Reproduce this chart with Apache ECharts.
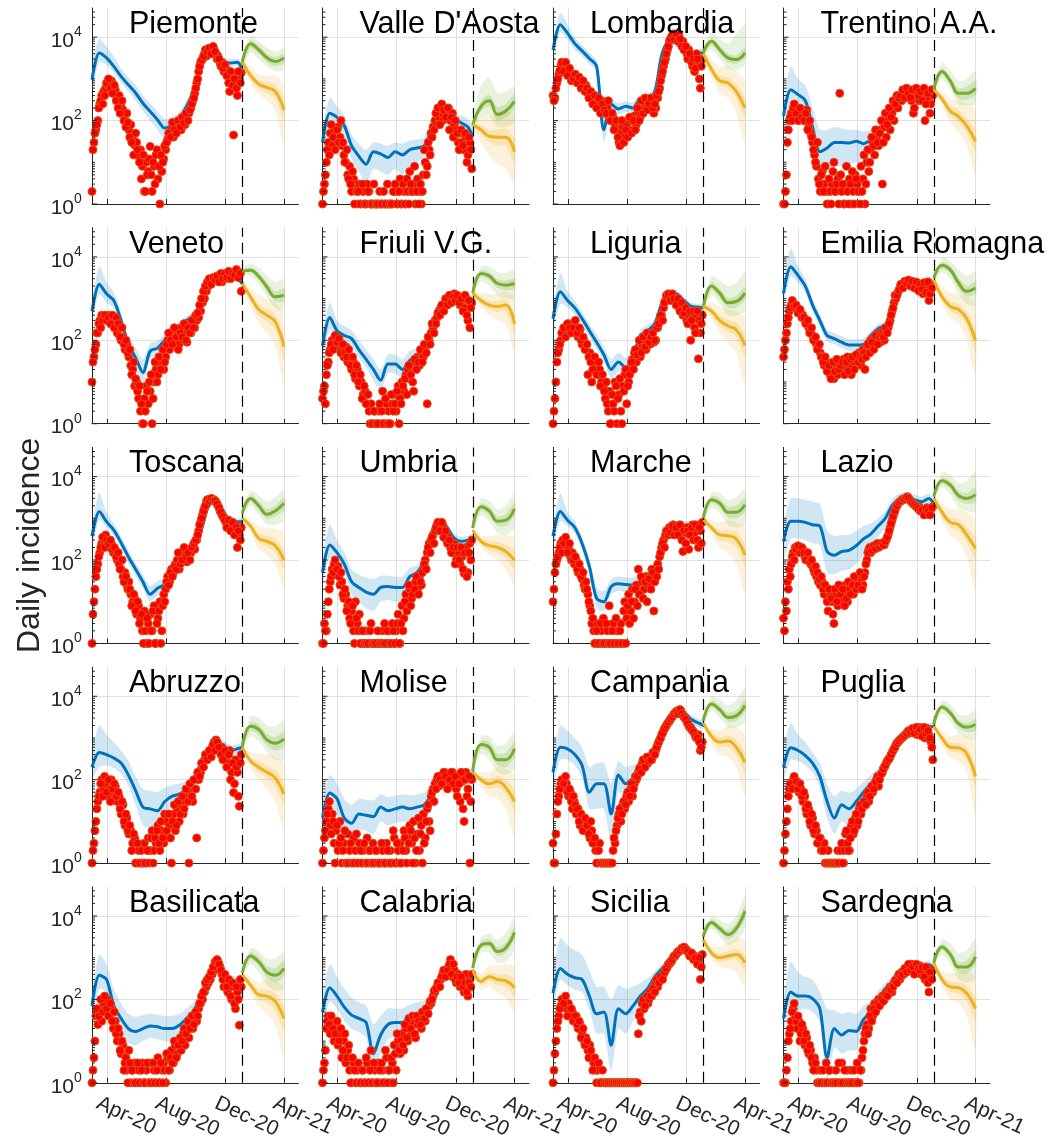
<!DOCTYPE html>
<html><head><meta charset="utf-8">
<script src="https://cdn.jsdelivr.net/npm/echarts@6/dist/echarts.min.js"></script>
<style>html,body{margin:0;padding:0;background:#fff}#c{width:1061px;height:1143px}</style>
</head><body><div id="c"></div><script>
const FONT = '"Liberation Sans", Arial, Helvetica, sans-serif';
const regionNames = ['Piemonte',"Valle D'Aosta",'Lombardia','Trentino A.A.','Veneto','Friuli V.G.','Liguria','Emilia Romagna','Toscana','Umbria','Marche','Lazio','Abruzzo','Molise','Campania','Puglia','Basilicata','Calabria','Sicilia','Sardegna'];
const tickDates = ['2020-04-01','2020-08-01','2020-12-01','2021-04-01'];
const tickLabels = ['Apr-20','Aug-20','Dec-20','Apr-21'];
const splitDate = '2021-01-05';
const yTickValues = [1,2,3,4,5,6,7,8,9,10,20,30,40,50,60,70,80,90,100,200,300,400,500,600,700,800,900,1000,2000,3000,4000,5000,6000,7000,8000,9000,10000,20000,30000,40000];
const yMajorTicks = [1,100,10000];
// sample days (days since 2020-03-01)
const dotDays = []; for (let d = 0; d <= 308; d += 4) dotDays.push(d);
const dotDays2 = []; for (let d = 2; d <= 306; d += 4) dotDays2.push(d);
const fitDays = [0,15,30,45,60,75,90,105,120,135,150,165,180,195,210,225,240,255,270,285,300,310];
const fcDays = [310,327,344,361,378,396];

// ---------- Piemonte ----------
const pieDots = [2,30,60,100,250,400,500,600,700,800, 900,720,550,350,400,220,180,105,150,60, 80,40,26,30,14,20,8,2,10,6, 24,2,8,15,4,1,6,12,20,35, 50,60,40,80,70,90,60,100,80,130, 150,200,300,450,800,1500,2500,3000,4000,3500, 5000,4500,5000,5000,4000,3500,2400,2500,1500,1800, 1150,500,1200,45,800,400,1000,1400];
const pieDots2 = [20,50,80,200,300,250,400,800,1000,600, 450,700,300,200,150,300,100,70,90,40, 30,15,50,20,10,4,15,2,5,12, 5,10,3,20,8,15,10,25,30,50, 40,90,60,50,100,70,120,90,150,100, 180,250,350,600,1000,2000,2800,3500,5000,4500, 5500,4000,6000,4500,3000,3000,2000,1800,2200,1200, 800,1500,700,1000,600,1500,800];
const pieFit = [950,4200,3200,2000,1150,720,460,260,165,105,66,80,115,220,550,2400,5000,4200,2600,2400,2500,1650];
const pieFitLo = [600,2500,2200,1400,800,500,300,170,100,60,35,50,80,160,420,1900,4000,3400,2100,1900,2000,1300];
const pieFitHi = [2500,9000,6000,3500,1800,1100,700,400,260,170,110,120,160,300,700,3000,6000,5000,3200,3000,3100,2100];
const pieGreen = [2400,7000,5000,3200,2600,3200];
const pieGreenIn = [[2200,2600],[5500,8500],[4000,6300],[2500,4000],[2000,3300],[2400,4000]];
const pieGreenOut = [[2000,2800],[4200,11000],[3000,8000],[2000,5500],[1500,4500],[1700,5500]];
const pieOrange = [2500,1200,750,620,500,180];
const pieOrangeIn = [[2300,2700],[1000,1500],[580,950],[450,850],[330,750],[100,320]];
const pieOrangeOut = [[2100,3000],[800,1900],[430,1300],[300,1200],[180,1200],[25,700]];

// ---------- Valle D'Aosta ----------
const vdaDots = [1,3,10,30,50,25,60,35,70,40, 25,15,10,5,8,2,4,3,1,3, 1,2,1,3,2,1,1,1,1,1, 1,1,1,1,1,1,1,2,2,1, 4,1,2,1,2,6,2,3,1,4, 2,1,5,10,8,20,50,70,100,80, 120,150,100,180,130,200,100,150,80,60, 30,50,30,20,40,15,30,7];
const vdaDots2 = [2,5,20,15,80,40,20,60,30,100, 30,10,20,4,3,6,1,2,2,1, 3,1,1,2,1,1,3,1,1,2, 1,2,1,3,1,1,2,3,1,2, 1,3,1,4,1,3,2,8,2,1, 3,2,20,5,30,15,40,60,150,200, 80,250,180,120,200,60,120,40,100,50, 20,60,25,50,10,40,20];
const vdaFit = [30,150,120,75,25,14,9,18,16,13,18,15,20,22,25,60,170,150,110,90,70,40];
const vdaFitLo = [15,80,70,40,12,6,3,7,6,5,7,5,8,10,14,35,120,110,80,60,45,25];
const vdaFitHi = [60,350,220,130,45,28,20,30,28,25,30,28,33,35,40,110,250,210,160,130,110,70];
const vdaGreen = [80,220,300,140,170,290];
const vdaGreenIn = [[70,90],[170,290],[220,420],[100,210],[120,250],[200,430]];
const vdaGreenOut = [[65,100],[120,700],[130,1100],[70,450],[70,500],[90,650]];
const vdaOrange = [80,60,42,40,40,18];
const vdaOrangeIn = [[75,88],[45,80],[30,60],[25,60],[25,65],[10,35]];
const vdaOrangeOut = [[70,95],[30,120],[15,130],[9,150],[7,170],[3,130]];

// ---------- Lombardia ----------
const lomDots = [400,350,800,1300,2000,2500,2000,1800,1500,1200, 1300,1000,1100,900,800,700,600,700,450,400, 350,300,350,250,200,300,150,250,200,120, 100,120,80,60,30,50,70,40,80,50, 100,60,130,80,150,120,200,300,250,200, 300,250,150,200,350,600,1200,2000,3000,5000, 8000,10000,12000,10000,9000,11000,7000,8000,5000,4000, 5000,3000,2000,1500,4000,2500,600,3000];
const lomDots2 = [300,600,1000,1600,2500,1500,2500,1200,1800,900, 1000,1300,800,1100,600,900,500,600,350,500, 250,400,200,350,150,250,180,150,300,100, 150,60,100,40,25,100,30,60,40,120, 50,100,60,200,100,300,150,350,180,250, 350,200,250,400,500,900,1500,2500,4000,6000, 9000,11000,9000,12000,8000,9000,6000,5000,6000,3000, 4000,2500,3000,1800,3000,1000,2000];
const lomFit = [5000,20000,12500,7000,4700,3100,2000,60,250,190,220,200,320,320,500,4000,8000,7000,4500,4200,4200,4200];
const lomFitLo = [3500,13000,9000,5000,3500,2300,1500,30,170,140,160,150,240,250,380,3000,6500,5800,3700,3400,3400,3300];
const lomFitHi = [7000,38000,20000,10000,6500,4300,2800,150,330,260,290,270,420,420,650,5200,10000,8500,5500,5200,5200,5200];
const lomGreen = [4200,8000,5000,3200,2900,4200];
const lomGreenIn = [[3900,4500],[6500,9500],[4000,6300],[2500,4000],[2300,3700],[3200,5500]];
const lomGreenOut = [[3700,4800],[5000,13000],[3000,9000],[1800,7000],[1600,12000],[2200,20000]];
const lomOrange = [4000,1700,900,800,500,200];
const lomOrangeIn = [[3700,4400],[1400,2200],[700,1200],[600,1100],[350,750],[120,330]];
const lomOrangeOut = [[3500,4700],[1100,3000],[450,2000],[350,2000],[150,1500],[30,900]];

// ---------- Trentino A.A. ----------
const taaDots = [1,2,30,100,150,200,120,150,100,180, 150,100,180,70,50,30,15,8,4,2, 6,3,2,1,2,3,10,2,4,450, 2,1,3,2,4,1,2,5,3,2, 8,4,1,10,6,20,30,15,40,25, 60,3,70,40,100,60,150,100,250,200, 350,300,450,500,400,500,300,150,400,500, 300,450,550,100,350,500,250,400];
const taaDots2 = [1,5,60,120,100,250,150,100,200,120, 100,150,60,100,40,20,10,30,3,5, 2,8,1,4,1,6,2,3,1,5, 3,1,8,1,3,6,1,4,2,1, 2,15,3,20,10,40,25,60,30,50, 100,30,150,80,200,120,300,250,400,350, 400,550,350,600,450,350,550,200,600,400, 500,300,600,250,450,150,550];
const taaFit = [130,550,420,300,70,18,22,30,30,29,32,28,35,50,90,200,450,600,550,550,550,550];
const taaFitLo = [70,260,200,160,35,7,6,8,8,9,10,9,14,25,55,140,350,480,450,450,450,440];
const taaFitHi = [250,2000,1000,700,200,60,60,70,65,60,60,55,60,80,140,280,600,750,680,680,680,680];
const taaGreen = [550,1500,900,450,450,600];
const taaGreenIn = [[520,580],[1250,1800],[700,1100],[330,600],[320,650],[400,900]];
const taaGreenOut = [[500,600],[1000,2400],[550,1600],[250,900],[230,1000],[250,1500]];
const taaOrange = [550,330,170,125,75,32];
const taaOrangeIn = [[520,580],[280,400],[130,230],[90,180],[50,110],[18,55]];
const taaOrangeOut = [[500,600],[230,500],[90,350],[50,300],[25,250],[5,180]];

// ---------- Veneto ----------
const venDots = [10,40,80,150,300,400,350,400,300,400, 350,250,300,150,200,100,120,60,80,40, 25,20,8,10,4,2,1,4,8,3, 6,1,10,20,15,25,30,20,40,100, 60,150,80,100,150,80,200,100,150,90, 200,150,250,200,300,350,500,800,1000,1500, 2000,2500,2500,2800,3000,2600,3200,2500,3500,3000, 3800,3200,4000,3500,4500,3500,4200,1500];
const venDots2 = [30,60,150,250,200,300,400,300,350,250, 400,200,350,250,120,200,80,100,50,60, 15,30,12,6,8,3,1,2,6,10, 15,4,30,10,40,20,60,30,80,150, 100,80,200,120,60,150,120,250,100,200, 150,300,200,400,450,700,1000,1500,2000,2500, 3000,2200,3200,2800,3500,2500,4000,3000,4000,3200, 4500,3000,4000,3600,5000,3200,4000];
const venFit = [500,2200,1300,900,300,80,38,17,55,65,100,150,220,300,400,800,1600,2600,2800,3200,3000,2300];
const venFitLo = [300,1300,800,600,200,50,22,9,35,45,75,110,170,240,320,650,1300,2200,2400,2700,2500,1900];
const venFitHi = [800,6000,2500,1400,450,130,65,35,85,95,140,200,290,380,500,1000,2000,3200,3400,3800,3600,2800];
const venGreen = [4500,4800,3400,1900,1100,1200];
const venGreenIn = [[4200,4800],[4200,5600],[2800,4200],[1500,2500],[850,1500],[850,1700]];
const venGreenOut = [[4000,5000],[3500,7000],[2200,5500],[1100,3500],[600,2500],[500,3000]];
const venOrange = [2300,1100,550,400,280,70];
const venOrangeIn = [[2100,2500],[900,1350],[400,750],[280,560],[180,420],[35,130]];
const venOrangeOut = [[2000,2700],[650,1800],[250,1200],[150,1000],[70,800],[8,400]];

// ---------- Friuli V.G. ----------
const fvgDots = [4,8,15,30,60,100,80,120,70,90, 60,40,70,30,40,20,30,12,20,8, 10,5,6,3,2,3,1,2,1,2, 1,6,1,3,2,1,3,5,2,8, 4,10,6,15,20,12,25,6,30,40, 25,50,40,70,3,100,150,200,300,350, 500,600,700,800,900,800,1000,900,1300,1000, 1100,700,900,600,1000,300,200,800];
const fvgDots2 = [6,3,25,50,80,60,130,90,110,50, 80,50,40,60,25,40,15,25,10,15, 4,8,3,5,1,1,2,1,1,3, 2,1,4,1,1,5,2,3,6,1, 3,8,12,5,25,15,10,35,20,30, 60,30,80,50,120,80,250,150,250,450, 400,700,500,1000,700,1200,800,1100,900,1200, 800,1000,500,1200,400,900,600];
const fvgFit = [75,350,170,130,110,60,35,20,11,27,27,20,33,42,60,120,450,800,900,900,800,700];
const fvgFitLo = [40,180,100,80,70,38,22,11,6,16,16,12,20,26,40,85,350,650,750,750,650,550];
const fvgFitHi = [150,800,300,220,170,100,60,35,20,45,45,35,55,65,90,170,600,1000,1100,1100,1000,900];
const fvgGreen = [1350,4000,3500,2300,2100,2300];
const fvgGreenIn = [[1250,1450],[3300,4800],[2800,4300],[1800,2900],[1600,2700],[1700,3000]];
const fvgGreenOut = [[1200,1500],[2600,5800],[2000,6000],[1200,4300],[1000,4200],[1000,5000]];
const fvgOrange = [1350,900,700,650,700,250];
const fvgOrangeIn = [[1300,1400],[750,1100],[550,900],[480,850],[500,950],[150,400]];
const fvgOrangeOut = [[1250,1450],[600,1400],[400,1300],[300,1300],[250,1500],[50,1000]];

// ---------- Liguria ----------
const ligDots = [1,4,30,60,100,150,200,150,250,180, 250,150,200,120,180,80,100,60,15,50, 10,30,25,15,20,10,8,4,3,6, 1,3,10,1,5,2,8,15,3,10, 20,35,50,30,60,40,80,100,60,120, 80,130,90,100,200,300,400,600,900,1000, 1200,1000,1100,900,800,600,700,400,500,300, 400,100,350,200,400,36,150,400];
const ligDots2 = [2,10,50,80,150,200,120,250,200,150, 200,300,150,200,100,120,60,80,40,30, 20,40,15,30,8,15,6,10,2,1, 5,2,8,4,12,1,6,20,8,15, 30,20,60,45,100,50,120,70,150,90, 120,150,100,200,250,400,300,800,1200,1300, 900,1300,1000,700,1000,500,800,450,600,250, 500,300,500,150,500,300,250];
const ligFit = [330,1450,900,600,330,170,90,45,20,30,22,40,130,170,250,800,1350,1300,900,650,620,590];
const ligFitLo = [180,750,600,400,230,120,60,30,12,18,13,25,90,120,190,650,1100,1050,750,520,500,480];
const ligFitHi = [550,4000,1500,900,480,250,140,70,35,50,38,60,180,230,330,1000,1650,1600,1100,800,750,720];
const ligGreen = [590,2000,1350,800,850,1350];
const ligGreenIn = [[560,620],[1600,2500],[1050,1750],[600,1050],[620,1150],[950,1900]];
const ligGreenOut = [[540,650],[1200,3500],[750,2700],[400,2000],[400,2400],[500,4500]];
const ligOrange = [650,500,300,220,180,75];
const ligOrangeIn = [[600,700],[400,620],[220,400],[160,310],[120,270],[40,140]];
const ligOrangeOut = [[580,730],[320,800],[150,650],[90,550],[50,500],[8,350]];

// ---------- Emilia Romagna ----------
const emrDots = [40,100,250,500,700,800,600,600,500,450, 400,300,250,200,180,130,100,80,70,50, 40,25,30,20,15,20,12,25,15,30, 20,35,20,40,25,15,35,30,40,50, 25,60,20,70,60,100,80,120,100,150, 90,150,100,180,200,300,500,800,1000,1400, 1800,2000,2200,2500,2600,2200,2400,2000,2300,1800, 1500,2000,1300,1700,2200,900,1500,2000];
const emrDots2 = [60,150,350,600,900,650,700,450,550,350, 350,250,300,150,200,100,120,60,80,40, 30,40,18,25,12,30,18,35,20,25, 30,15,30,18,35,40,20,45,30,40, 35,50,40,80,50,90,60,130,80,120, 130,120,200,150,250,400,600,1200,1200,1600, 2200,1800,2600,2300,2800,2000,2600,1800,2500,1600, 2200,1700,2400,1400,2500,1300,1800];
const emrFit = [1350,5800,3600,2000,700,300,130,110,90,77,77,80,130,190,230,500,1700,2600,2400,2500,2900,2100];
const emrFitLo = [800,3400,2400,1400,500,220,95,80,65,55,55,58,100,150,180,400,1400,2200,2000,2100,2400,1750];
const emrFitHi = [2500,16000,6000,3000,1000,420,180,150,125,105,105,110,170,240,300,650,2100,3100,2900,3000,3500,2600];
const emrGreen = [3100,6300,4900,2400,1500,1800];
const emrGreenIn = [[2900,3300],[5200,7500],[3900,6200],[1800,3200],[1100,2000],[1300,2500]];
const emrGreenOut = [[2800,3500],[4200,9500],[2900,8000],[1300,5000],[750,3500],[700,4500]];
const emrOrange = [2800,1100,650,550,330,100];
const emrOrangeIn = [[2600,3000],[900,1350],[500,850],[400,750],[220,480],[55,180]];
const emrOrangeOut = [[2500,3200],[700,1900],[350,1400],[250,1300],[100,1100],[15,700]];

// ---------- Toscana ----------
const tosDots = [1,10,40,80,150,250,300,400,300,200, 250,150,180,100,80,60,40,50,25,30, 15,10,12,5,8,4,2,6,1,3, 5,2,8,1,4,10,2,15,20,40, 30,60,50,80,100,60,120,100,150,90, 120,150,200,180,300,500,800,1200,1800,2500, 2800,2800,2900,2800,2500,2000,1500,1200,1000,800, 700,800,600,500,700,200,400,600];
const tosDots2 = [5,20,60,120,200,350,200,300,250,300, 180,200,120,150,60,100,30,40,20,20, 8,15,6,10,3,5,1,2,4,1, 2,6,1,3,6,1,8,10,30,25, 50,40,70,60,150,80,100,200,120,150, 100,200,250,300,400,700,1000,1500,2000,2800, 2600,3000,2700,2600,2200,1800,1400,1100,900,600, 900,500,800,400,600,500,300];
const tosFit = [370,1450,830,520,260,120,60,30,15,21,26,50,85,130,180,500,1900,2700,1500,900,830,830];
const tosFitLo = [220,900,600,380,190,85,42,21,10,14,18,36,65,100,140,400,1600,2300,1250,750,680,680];
const tosFitHi = [600,4000,1400,750,350,170,85,45,24,32,38,70,110,170,230,650,2300,3200,1800,1100,1000,1000];
const tosGreen = [1300,3000,2000,1250,1500,2300];
const tosGreenIn = [[1200,1400],[2500,3600],[1600,2600],[950,1650],[1100,2000],[1600,3100]];
const tosGreenOut = [[1150,1450],[2000,4500],[1200,3500],[700,2500],[700,3200],[900,5000]];
const tosOrange = [1000,650,330,280,220,100];
const tosOrangeIn = [[950,1050],[550,780],[260,430],[210,380],[150,320],[60,170]];
const tosOrangeOut = [[900,1100],[450,950],[180,650],[130,600],[80,550],[20,450]];

// ---------- Umbria ----------
const umbDots = [1,3,2,10,30,60,80,50,70,25, 30,12,15,8,4,6,2,10,3,5, 1,1,2,1,1,3,1,1,1,1, 1,2,3,1,2,1,3,1,2,5, 1,8,4,15,10,20,12,25,30,20, 40,25,60,100,150,250,300,400,500,700, 600,500,700,400,300,350,200,150,250,100, 150,80,120,48,200,50,250,300];
const umbDots2 = [1,2,5,20,40,50,100,60,40,50, 15,20,6,10,3,8,1,4,2,1, 2,1,1,1,2,1,1,1,2,1, 1,1,1,2,1,1,2,1,3,1, 3,2,10,6,25,8,15,20,40,15, 30,50,80,60,200,150,350,250,600,800, 500,800,350,500,250,300,150,200,80,200, 100,200,60,150,40,150,100];
const umbFit = [50,230,150,80,30,22,17,15,22,23,22,22,40,50,100,350,750,650,350,280,300,330];
const umbFitLo = [28,110,80,45,15,10,7,6,10,11,10,11,25,32,70,260,600,520,270,210,230,250];
const umbFitHi = [100,700,300,150,60,45,38,35,42,42,40,40,65,75,140,450,950,820,450,360,380,420];
const umbGreen = [580,1900,1500,850,900,1700];
const umbGreenIn = [[550,610],[1550,2300],[1150,1900],[650,1100],[650,1250],[1200,2400]];
const umbGreenOut = [[530,640],[1200,3000],[850,2600],[450,1600],[400,2000],[600,4000]];
const umbOrange = [520,280,220,200,160,100];
const umbOrangeIn = [[500,540],[240,330],[170,280],[150,270],[110,230],[60,170]];
const umbOrangeOut = [[480,560],[200,400],[130,380],[100,400],[60,400],[25,350]];

// ---------- Marche ----------
const marDots = [10,50,100,150,250,300,250,180,200,120, 150,80,100,50,60,35,25,30,15,8, 3,2,1,3,1,2,4,1,2,8, 1,3,1,2,1,3,1,10,4,15, 6,20,10,25,60,15,30,20,40,25, 40,60,6,50,80,120,200,300,400,500, 600,500,700,450,550,500,600,160,450,600, 180,500,700,450,600,200,500,800];
const marDots2 = [20,80,120,200,150,250,350,150,250,100, 100,120,60,80,40,50,20,20,10,6, 4,1,2,1,3,1,1,3,1,1, 2,1,4,1,2,1,6,1,8,3, 10,4,20,8,15,40,12,30,10,35, 20,50,30,40,60,150,250,200,500,400, 450,650,400,600,400,700,300,500,250,500, 400,600,300,700,300,600,250];
const marFit = [370,1450,900,600,250,70,12,10,23,27,26,25,30,40,55,150,600,650,650,650,700,800];
const marFitLo = [220,850,650,430,180,45,7,6,15,18,17,17,20,28,40,110,480,520,520,520,560,650];
const marFitHi = [600,4000,1400,850,350,110,22,18,35,40,38,38,45,60,80,220,800,850,850,850,900,1000];
const marGreen = [1000,2800,2300,1400,1400,2100];
const marGreenIn = [[950,1050],[2300,3400],[1800,3000],[1050,1900],[1000,2000],[1400,3000]];
const marGreenOut = [[900,1100],[1800,4200],[1300,4000],[700,2800],[600,3200],[700,5000]];
const marOrange = [900,600,400,380,320,130];
const marOrangeIn = [[870,940],[500,720],[300,520],[270,520],[210,480],[70,230]];
const marOrangeOut = [[850,960],[400,900],[200,800],[150,900],[80,800],[15,600]];

// ---------- Lazio ----------
const lazDots = [4,10,30,60,80,150,200,180,200,150, 180,120,130,100,80,70,50,40,30,25, 30,15,20,6,15,10,3,15,8,20, 10,15,25,10,20,30,15,30,20,40, 30,25,50,100,180,150,200,180,220,200, 220,250,230,300,400,600,900,1300,1800,2200, 2500,2700,2800,3000,3300,2800,2500,2200,2000,1800, 1900,1700,1500,1400,1800,1300,1600,1900];
const lazDots2 = [2,6,20,40,120,100,180,220,150,200, 150,100,150,90,100,60,70,50,35,40, 20,25,10,20,12,5,20,10,25,15, 20,8,12,30,15,25,40,20,25,50, 20,40,80,150,200,170,220,190,250,210, 250,230,280,350,500,750,1100,1500,2000,2400, 2600,2900,2900,3200,3000,2600,2300,2100,1900,1700, 1500,1600,1200,1700,1500,1200,1800];
const lazFit = [280,850,850,800,700,650,160,130,160,170,220,320,420,650,1000,2100,2900,3300,2800,2500,3000,2200];
const lazFitLo = [100,320,330,300,250,230,50,45,55,60,80,130,200,350,600,1400,2100,2500,2100,1900,2300,1700];
const lazFitHi = [700,3000,3000,2800,2500,2200,500,380,400,400,500,650,750,1000,1500,3000,4000,4300,3700,3300,3900,2900];
const lazGreen = [3300,8000,6300,3500,3000,3700];
const lazGreenIn = [[3100,3500],[6800,9500],[5000,7800],[2700,4500],[2200,4000],[2500,5500]];
const lazGreenOut = [[3000,3700],[5500,13000],[3800,11000],[1800,7000],[1500,8000],[1400,13000]];
const lazOrange = [3000,1400,800,700,400,190];
const lazOrangeIn = [[2800,3200],[1100,1750],[600,1050],[500,950],[270,600],[100,330]];
const lazOrangeOut = [[2700,3300],[850,2400],[400,1700],[280,1700],[120,1400],[20,900]];

// ---------- Abruzzo ----------
const abrDots = [1,3,10,30,50,100,60,80,40,60, 100,50,70,30,40,15,25,8,12,5, 6,3,4,1,2,1,1,3,1,4, 2,6,2,3,8,2,6,3,10,4, 8,1,15,6,20,10,25,15,30,40, 1,50,30,60,4,100,150,200,300,350, 400,500,600,800,900,700,500,600,400,300, 250,500,150,49,300,150,23,400];
const abrDots2 = [2,6,20,40,80,40,120,50,100,30, 60,80,40,50,20,30,10,15,6,8, 2,5,1,3,1,2,1,1,2,1, 4,1,4,6,3,10,4,15,6,15, 4,10,25,8,30,15,40,20,60,30, 80,40,100,60,150,120,250,200,400,300, 500,350,700,500,800,600,400,300,500,200, 400,100,250,80,200,40,250];
const abrFit = [200,450,400,330,250,130,55,22,20,18,30,40,45,60,110,250,500,800,700,500,550,600];
const abrFitLo = [110,200,220,190,140,70,25,8,7,7,14,22,28,40,75,180,380,650,550,380,420,450];
const abrFitHi = [450,2000,1200,800,500,280,120,60,55,50,65,75,80,95,160,350,650,1000,900,680,720,800];
const abrGreen = [600,1900,1600,900,750,950];
const abrGreenIn = [[570,630],[1500,2400],[1200,2100],[650,1250],[500,1050],[600,1400]];
const abrGreenOut = [[550,660],[1100,3300],[850,3000],[450,2000],[300,1900],[300,2700]];
const abrOrange = [600,280,200,150,110,45];
const abrOrangeIn = [[570,630],[230,340],[150,270],[110,220],[70,170],[25,80]];
const abrOrangeOut = [[550,660],[180,430],[100,420],[60,400],[30,350],[6,250]];

// ---------- Molise ----------
const molDots = [1,4,10,20,8,15,3,6,2,10, 1,3,1,5,2,1,4,2,1,3, 1,2,1,4,2,1,3,1,2,1, 1,2,1,3,1,2,1,4,1,2, 3,1,6,2,4,8,3,10,1,5, 2,8,15,4,20,10,40,60,80,100, 70,120,90,150,100,130,80,150,100,60, 120,30,90,10,150,60,1,100];
const molDots2 = [2,6,15,30,5,10,1,8,3,4, 2,6,1,1,3,1,1,5,1,2, 1,3,1,1,2,1,1,2,1,1, 3,1,1,2,1,1,6,1,3,1, 1,2,4,1,3,6,1,4,2,12, 5,1,3,10,25,6,50,30,60,120, 100,80,150,120,60,100,150,80,120,40, 80,150,20,100,40,120,30];
const molFit = [12,48,35,12,9,15,14,13,22,18,20,22,20,22,25,45,95,110,110,110,130,140];
const molFitLo = [5,22,15,5,3,6,6,5,10,8,9,10,9,10,12,28,70,85,85,85,100,110];
const molFitHi = [30,130,80,35,25,35,33,32,45,38,42,45,42,45,50,75,130,145,145,145,170,180];
const molGreen = [160,700,600,300,300,550];
const molGreenIn = [[150,170],[550,850],[450,800],[220,420],[200,450],[350,800]];
const molGreenOut = [[145,175],[420,1100],[300,1100],[150,650],[130,750],[180,1400]];
const molOrange = [150,100,80,90,65,30];
const molOrangeIn = [[145,155],[85,120],[60,105],[65,125],[45,100],[18,55]];
const molOrangeOut = [[140,160],[65,150],[40,150],[35,200],[20,180],[4,120]];

// ---------- Campania ----------
const camDots = [3,1,15,40,80,100,60,80,40,50, 20,30,15,20,8,12,10,6,10,4, 6,3,2,1,3,1,1,1,1,1, 1,2,3,8,15,10,25,20,40,30, 60,40,80,100,150,200,250,200,300,250, 350,300,400,500,700,900,1200,1500,1800,2200, 2500,3000,3500,4000,4500,4000,4500,3500,3000,2500, 2000,1800,1500,1300,1000,1200,500,800];
const camDots2 = [1,5,30,60,100,80,120,50,60,30, 40,25,20,10,15,6,12,8,5,10, 3,4,1,2,1,1,1,1,1,1, 1,4,6,12,20,15,30,25,50,40, 80,60,120,120,180,150,300,200,350,280, 300,450,400,600,800,1000,1300,1700,2000,2400, 2800,3200,3800,4200,3800,4800,3800,3200,2800,2200, 1800,1600,1400,1100,1000,800,600];
const camFit = [150,600,550,400,220,50,80,80,15,130,80,110,150,250,450,1100,2200,4000,4000,2800,2300,2000];
const camFitLo = [70,300,300,220,110,20,20,20,3,50,35,55,90,170,320,850,1800,3300,3300,2300,1800,1600];
const camFitHi = [350,2000,1500,1000,600,200,250,250,80,280,200,230,270,380,650,1500,2800,4900,4900,3500,2900,2600];
const camGreen = [2600,6500,4800,3100,3400,6000];
const camGreenIn = [[2400,2800],[5500,7800],[3900,6000],[2500,4000],[2600,4600],[4300,8500]];
const camGreenOut = [[2300,2900],[4500,10000],[3000,8500],[1800,6000],[1800,8000],[2500,16000]];
const camOrange = [2300,1100,800,850,600,260];
const camOrangeIn = [[2200,2400],[900,1350],[620,1050],[620,1150],[400,900],[150,450]];
const camOrangeOut = [[2100,2500],[700,1700],[400,1500],[350,2000],[200,1800],[40,1200]];

// ---------- Puglia ----------
const pugDots = [1,5,20,60,80,100,70,90,50,60, 30,40,15,20,8,12,5,6,3,4, 2,3,1,2,1,1,1,1,2,1, 3,1,5,3,2,8,5,12,8,20, 15,25,30,40,30,60,50,80,100,70, 130,150,200,250,300,350,450,550,700,800, 900,1000,1100,1200,1400,1300,1500,1400,1600,1200, 1800,1300,1500,1000,1700,1200,800,300];
const pugDots2 = [2,10,40,80,60,120,90,60,80,40, 50,20,25,10,15,6,8,3,4,2, 2,1,1,1,1,1,1,1,1,2, 1,2,6,2,4,10,6,15,10,25, 20,30,25,50,40,70,60,90,120,100, 140,180,220,280,320,400,500,600,750,850, 950,1050,1150,1300,1500,1400,1700,1300,1800,1400, 1600,1100,1800,1300,1500,1000,600];
const pugFit = [200,580,500,380,250,120,30,12,25,20,30,50,80,140,250,450,800,1300,1700,1800,1850,1900];
const pugFitLo = [100,300,280,220,150,65,12,5,10,8,14,28,50,100,190,350,650,1050,1400,1500,1500,1550];
const pugFitHi = [450,2300,1200,800,450,250,80,40,55,48,60,90,130,200,330,600,1000,1600,2100,2200,2300,2300];
const pugGreen = [2100,5500,4000,2200,1800,2100];
const pugGreenIn = [[2000,2200],[4700,6500],[3300,5000],[1800,2700],[1400,2300],[1500,2800]];
const pugGreenOut = [[1950,2250],[3800,8000],[2500,6500],[1300,3800],[1000,3500],[900,4500]];
const pugOrange = [1900,1000,600,580,420,120];
const pugOrangeIn = [[1800,2000],[850,1200],[480,760],[450,750],[300,600],[70,200]];
const pugOrangeOut = [[1750,2050],[650,1500],[330,1100],[280,1200],[150,1100],[15,700]];

// ---------- Basilicata ----------
const basDots = [1,4,40,25,60,30,80,50,100,40, 60,20,30,10,15,5,8,3,2,6, 1,2,3,1,2,1,3,1,2,1, 3,1,2,1,4,1,2,3,1,4, 2,6,3,8,5,10,6,15,8,20, 12,30,20,40,30,60,80,100,150,200, 250,300,400,500,700,800,600,400,200,300, 150,250,100,200,60,150,24,200];
const basDots2 = [2,10,60,40,100,50,120,60,40,80, 30,50,15,20,6,10,2,4,1,3, 2,1,1,3,1,2,1,1,3,1, 1,3,1,2,1,3,1,2,5,2, 4,3,10,4,8,12,10,20,15,30, 20,40,25,50,40,80,120,150,250,300, 350,450,600,800,900,700,500,300,400,200, 300,120,250,80,200,100,300];
const basFit = [70,380,300,70,35,20,17,20,23,22,20,20,24,35,55,120,260,650,500,300,250,280];
const basFitLo = [35,180,150,35,17,9,8,10,12,11,10,10,12,20,35,80,190,500,380,220,180,210];
const basFitHi = [150,1200,700,180,80,45,38,42,45,43,40,40,45,60,85,170,350,850,650,400,350,380];
const basGreen = [430,1100,800,450,380,560];
const basGreenIn = [[410,450],[900,1350],[620,1050],[330,620],[260,550],[360,850]];
const basGreenOut = [[400,460],[700,1700],[450,1400],[220,950],[160,950],[180,1400]];
const basOrange = [390,220,130,120,90,35];
const basOrangeIn = [[370,410],[180,270],[100,175],[85,170],[55,140],[18,65]];
const basOrangeOut = [[360,420],[140,350],[70,250],[45,300],[25,280],[4,180]];

// ---------- Calabria ----------
const calDots = [1,3,20,40,15,30,10,25,8,15, 4,10,3,6,2,1,3,1,2,1, 1,2,1,3,1,6,1,2,1,3, 1,2,1,4,2,1,3,8,2,10, 5,15,6,20,10,25,15,30,12,25, 35,20,40,30,50,70,80,120,150,200, 250,300,400,500,400,600,900,350,500,250, 400,200,300,150,400,120,300,400];
const calDots2 = [2,6,30,25,40,20,15,30,10,20, 6,15,4,8,1,4,2,1,3,1, 2,1,4,1,2,1,3,1,1,2, 3,1,6,1,2,4,1,5,15,6, 10,8,25,12,35,20,40,15,40,30, 25,50,35,60,45,90,100,160,180,250, 200,350,500,350,500,700,400,700,300,350, 250,350,200,250,150,250,200];
const calFit = [50,190,120,65,42,35,28,5,14,25,28,28,38,45,55,90,220,430,400,280,280,310];
const calFitLo = [20,90,60,30,20,16,12,1.5,5,11,13,13,18,24,32,60,160,330,300,200,200,230];
const calFitHi = [130,700,350,180,110,85,70,25,40,60,60,60,75,85,95,140,300,560,520,380,380,420];
const calGreen = [560,2000,2200,1400,1700,4000];
const calGreenIn = [[530,590],[1650,2400],[1800,2800],[1100,1800],[1300,2300],[2800,5500]];
const calGreenOut = [[510,610],[1300,3000],[1300,3800],[750,2700],[800,4000],[1600,9000]];
const calOrange = [500,270,350,300,280,190];
const calOrangeIn = [[480,520],[220,330],[280,440],[220,400],[200,400],[120,300]];
const calOrangeOut = [[460,540],[170,420],[200,650],[140,650],[110,700],[50,600]];

// ---------- Sicilia ----------
const sicDots = [1,5,20,40,70,100,80,60,80,40, 50,30,40,20,25,15,10,12,6,8, 4,3,2,2,1,1,1,1,1,1, 1,1,1,1,1,1,1,1,1,1, 1,1,1,1,15,50,80,60,100,80, 150,120,200,250,200,300,350,400,500,600, 700,800,1000,1100,1300,1400,1500,1600,1700,1500, 1300,1200,1000,1100,900,800,300,1200];
const sicDots2 = [2,10,30,60,100,80,120,40,60,60, 30,40,25,30,12,20,8,10,4,6, 2,4,1,3,1,2,1,1,1,1, 1,1,1,1,1,1,1,1,1,1, 1,1,1,1,40,30,100,70,120,100, 120,180,150,300,250,350,300,450,550,700, 800,900,1100,1200,1400,1500,1700,1800,1600,1400, 1100,1300,900,1000,700,1000,600];
const sicFit = [140,550,400,330,300,120,45,50,8,60,45,70,120,180,350,550,850,1300,1700,1500,1100,1300];
const sicFitLo = [60,300,220,170,150,55,15,15,2,20,15,30,70,120,260,430,700,1100,1450,1250,900,1050];
const sicFitHi = [350,3000,2000,1500,1200,500,200,200,100,220,180,200,250,320,480,700,1050,1600,2000,1800,1350,1600];
const sicGreen = [3200,7000,5000,3600,5000,13000];
const sicGreenIn = [[3000,3400],[6000,8200],[4000,6200],[2800,4600],[3700,6800],[9000,18000]];
const sicGreenOut = [[2900,3500],[5000,10000],[3200,8000],[2000,6500],[2500,10000],[5000,30000]];
const sicOrange = [2700,1300,1000,1100,1200,750];
const sicOrangeIn = [[2600,2800],[1100,1550],[800,1250],[850,1450],[900,1650],[500,1100]];
const sicOrangeOut = [[2500,2900],[900,1900],[600,1800],[550,2200],[450,3000],[200,2500]];

// ---------- Sardegna ----------
const sarDots = [1,1,4,15,30,60,40,20,30,15, 20,8,12,5,6,3,4,2,1,2, 1,1,3,1,2,1,1,2,1,1, 3,1,1,2,1,2,1,1,3,1, 2,6,15,25,20,60,40,80,60,100, 80,120,100,150,130,200,150,250,300,350, 300,450,400,500,600,550,700,500,600,450, 650,400,550,300,500,150,350,500];
const sarDots2 = [1,2,10,20,50,80,30,40,10,25, 10,15,6,8,4,2,3,1,1,1, 2,1,1,2,1,1,1,1,3,1, 1,2,1,1,1,1,2,1,1,2, 4,10,20,15,40,30,60,50,80,70, 100,90,130,120,180,170,200,280,250,400, 350,400,550,450,700,500,600,400,700,550, 500,600,350,600,250,450,300];
const sarFit = [35,150,120,120,105,60,4,20,14,18,17,33,50,100,180,270,400,600,680,630,680,550];
const sarFitLo = [15,60,55,60,50,28,1.2,7,5,6,6,15,28,65,130,200,300,480,550,500,550,430];
const sarFitHi = [100,800,450,350,300,150,60,55,45,50,45,70,90,160,250,360,520,750,850,800,850,700];
const sarGreen = [750,1800,1200,600,600,1050];
const sarGreenIn = [[710,790],[1500,2200],[950,1500],[450,800],[420,850],[700,1500]];
const sarGreenOut = [[690,820],[1200,2800],[700,2200],[300,1300],[250,1500],[300,2800]];
const sarOrange = [740,300,200,190,140,60];
const sarOrangeIn = [[700,780],[250,370],[150,270],[140,260],[90,210],[30,110]];
const sarOrangeOut = [[680,800],[190,480],[100,420],[80,450],[40,450],[6,350]];

function mk(name, dots, dots2, fit, fitLo, fitHi, green, greenIn, greenOut, orange, orangeIn, orangeOut) {
  return {name, dots, dots2, fit, fitLo, fitHi, green, greenIn, greenOut, orange, orangeIn, orangeOut};
}
const regions = [
  mk(regionNames[0], pieDots, pieDots2, pieFit, pieFitLo, pieFitHi, pieGreen, pieGreenIn, pieGreenOut, pieOrange, pieOrangeIn, pieOrangeOut),
  mk(regionNames[1], vdaDots, vdaDots2, vdaFit, vdaFitLo, vdaFitHi, vdaGreen, vdaGreenIn, vdaGreenOut, vdaOrange, vdaOrangeIn, vdaOrangeOut),
  mk(regionNames[2], lomDots, lomDots2, lomFit, lomFitLo, lomFitHi, lomGreen, lomGreenIn, lomGreenOut, lomOrange, lomOrangeIn, lomOrangeOut),
  mk(regionNames[3], taaDots, taaDots2, taaFit, taaFitLo, taaFitHi, taaGreen, taaGreenIn, taaGreenOut, taaOrange, taaOrangeIn, taaOrangeOut),
  mk(regionNames[4], venDots, venDots2, venFit, venFitLo, venFitHi, venGreen, venGreenIn, venGreenOut, venOrange, venOrangeIn, venOrangeOut),
  mk(regionNames[5], fvgDots, fvgDots2, fvgFit, fvgFitLo, fvgFitHi, fvgGreen, fvgGreenIn, fvgGreenOut, fvgOrange, fvgOrangeIn, fvgOrangeOut),
  mk(regionNames[6], ligDots, ligDots2, ligFit, ligFitLo, ligFitHi, ligGreen, ligGreenIn, ligGreenOut, ligOrange, ligOrangeIn, ligOrangeOut),
  mk(regionNames[7], emrDots, emrDots2, emrFit, emrFitLo, emrFitHi, emrGreen, emrGreenIn, emrGreenOut, emrOrange, emrOrangeIn, emrOrangeOut),
  mk(regionNames[8], tosDots, tosDots2, tosFit, tosFitLo, tosFitHi, tosGreen, tosGreenIn, tosGreenOut, tosOrange, tosOrangeIn, tosOrangeOut),
  mk(regionNames[9], umbDots, umbDots2, umbFit, umbFitLo, umbFitHi, umbGreen, umbGreenIn, umbGreenOut, umbOrange, umbOrangeIn, umbOrangeOut),
  mk(regionNames[10], marDots, marDots2, marFit, marFitLo, marFitHi, marGreen, marGreenIn, marGreenOut, marOrange, marOrangeIn, marOrangeOut),
  mk(regionNames[11], lazDots, lazDots2, lazFit, lazFitLo, lazFitHi, lazGreen, lazGreenIn, lazGreenOut, lazOrange, lazOrangeIn, lazOrangeOut),
  mk(regionNames[12], abrDots, abrDots2, abrFit, abrFitLo, abrFitHi, abrGreen, abrGreenIn, abrGreenOut, abrOrange, abrOrangeIn, abrOrangeOut),
  mk(regionNames[13], molDots, molDots2, molFit, molFitLo, molFitHi, molGreen, molGreenIn, molGreenOut, molOrange, molOrangeIn, molOrangeOut),
  mk(regionNames[14], camDots, camDots2, camFit, camFitLo, camFitHi, camGreen, camGreenIn, camGreenOut, camOrange, camOrangeIn, camOrangeOut),
  mk(regionNames[15], pugDots, pugDots2, pugFit, pugFitLo, pugFitHi, pugGreen, pugGreenIn, pugGreenOut, pugOrange, pugOrangeIn, pugOrangeOut),
  mk(regionNames[16], basDots, basDots2, basFit, basFitLo, basFitHi, basGreen, basGreenIn, basGreenOut, basOrange, basOrangeIn, basOrangeOut),
  mk(regionNames[17], calDots, calDots2, calFit, calFitLo, calFitHi, calGreen, calGreenIn, calGreenOut, calOrange, calOrangeIn, calOrangeOut),
  mk(regionNames[18], sicDots, sicDots2, sicFit, sicFitLo, sicFitHi, sicGreen, sicGreenIn, sicGreenOut, sicOrange, sicOrangeIn, sicOrangeOut),
  mk(regionNames[19], sarDots, sarDots2, sarFit, sarFitLo, sarFitHi, sarGreen, sarGreenIn, sarGreenOut, sarOrange, sarOrangeIn, sarOrangeOut)
];

// ---------- chart construction ----------
const dayLabels = [];
for (let i = 0; i <= 426; i++) { dayLabels.push(new Date(Date.UTC(2020, 2, 1 + i)).toISOString().slice(0, 10)); }
const tickIdx = tickDates.map(t => dayLabels.indexOf(t));
const L = v => Math.log10(v);
const isTick = (idx) => tickIdx.indexOf(idx) >= 0;

const C_BLUE = '#0072BD', C_GREEN = '#77AC30', C_ORANGE = '#EDB120', C_AX = '#262626';

function bandSeries(gi, days, lo, hi, fill, z) {
  return {
    type: 'custom', xAxisIndex: gi, yAxisIndex: gi, silent: true, z: z, clip: true,
    data: [[days[0], L(lo[0])]],
    renderItem: function (p, api) {
      const up = days.map((d, k) => api.coord([d, L(hi[k])]));
      const dn = days.map((d, k) => api.coord([d, L(lo[k])])).reverse();
      return { type: 'polygon', shape: { points: up.concat(dn), smooth: 0.25 }, style: { fill: fill } };
    }
  };
}

const grids = [], xAxes = [], yAxes = [], series = [], titles = [];
regions.forEach((r, i) => {
  const row = Math.floor(i / 4), col = i % 4;
  const left = 92 + col * 230.5, top = 8 + row * 219.7;
  grids.push({ left: left, top: top, width: 206.5, height: 196 });
  xAxes.push({
    type: 'category', gridIndex: i, data: dayLabels, boundaryGap: false,
    axisLine: { show: true, lineStyle: { color: C_AX, width: 1 } },
    axisTick: { show: true, inside: true, length: 5, interval: isTick, lineStyle: { color: C_AX } },
    axisLabel: { show: false },
    splitLine: { show: true, interval: isTick, lineStyle: { color: '#e1e1e1', width: 1 } }
  });
  yAxes.push({
    type: 'value', gridIndex: i, min: 0, max: 4.7, interval: 2,
    axisLine: { show: true, lineStyle: { color: C_AX, width: 1 } },
    axisTick: { show: false },
    axisLabel: { show: false },
    splitLine: { show: true, showMinLine: false, showMaxLine: false, lineStyle: { color: '#e1e1e1', width: 1 } },
    name: i === 8 ? 'Daily incidence' : '', nameLocation: 'middle', nameGap: 46,
    nameTextStyle: { fontSize: 32, color: C_AX, fontFamily: FONT }
  });
  titles.push({ text: r.name, left: left + 37, top: top + 1, padding: 0,
    textStyle: { fontSize: 30.5, fontWeight: 'normal', color: '#000', fontFamily: FONT } });

  // bands
  series.push(bandSeries(i, fitDays, r.fitLo, r.fitHi, 'rgba(0,114,189,0.18)', 1));
  series.push(bandSeries(i, fcDays, r.greenOut.map(p => p[0]), r.greenOut.map(p => p[1]), 'rgba(119,172,48,0.16)', 1));
  series.push(bandSeries(i, fcDays, r.orangeOut.map(p => p[0]), r.orangeOut.map(p => p[1]), 'rgba(237,177,32,0.16)', 1));
  series.push(bandSeries(i, fcDays, r.greenIn.map(p => p[0]), r.greenIn.map(p => p[1]), 'rgba(119,172,48,0.22)', 2));
  series.push(bandSeries(i, fcDays, r.orangeIn.map(p => p[0]), r.orangeIn.map(p => p[1]), 'rgba(237,177,32,0.22)', 2));
  // fitted line
  series.push({ type: 'line', xAxisIndex: i, yAxisIndex: i, silent: true, z: 3, symbol: 'none', smooth: 0.3,
    data: fitDays.map((d, k) => [d, L(r.fit[k])]), lineStyle: { color: C_BLUE, width: 3 } });
  // data dots
  const dotData = dotDays.map((d, k) => [d, L(r.dots[k])]).concat(dotDays2.map((d, k) => [d, L(r.dots2[k])]));
  series.push({ type: 'scatter', xAxisIndex: i, yAxisIndex: i, silent: true, z: 4, clip: false, symbolSize: 8,
    data: dotData, itemStyle: { color: '#FF0000', borderColor: '#D95319', borderWidth: 1, opacity: 1 } });
  // forecasts
  series.push({ type: 'line', xAxisIndex: i, yAxisIndex: i, silent: true, z: 5, symbol: 'none', smooth: 0.45,
    data: fcDays.map((d, k) => [d, L(r.green[k])]), lineStyle: { color: C_GREEN, width: 3 } });
  series.push({ type: 'line', xAxisIndex: i, yAxisIndex: i, silent: true, z: 5, symbol: 'none', smooth: 0.45,
    data: fcDays.map((d, k) => [d, L(r.orange[k])]), lineStyle: { color: C_ORANGE, width: 3 },
    markLine: { silent: true, symbol: 'none', label: { show: false },
      lineStyle: { color: '#000', type: [11, 6], width: 1.2 }, data: [{ xAxis: splitDate }] } });
  // y ticks (major + log minor), drawn inside
  series.push({ type: 'custom', xAxisIndex: i, yAxisIndex: i, silent: true, z: 6, clip: false,
    data: yTickValues.map(v => [0, L(v), yMajorTicks.indexOf(v) >= 0 ? 5 : 3]),
    renderItem: function (p, api) {
      const pt = api.coord([0, api.value(1)]);
      return { type: 'line', shape: { x1: pt[0], y1: pt[1], x2: pt[0] + api.value(2), y2: pt[1] },
        style: { stroke: C_AX, lineWidth: 1 } };
    } });
  // y tick labels 10^k on first column
  if (col === 0) {
    series.push({ type: 'custom', xAxisIndex: i, yAxisIndex: i, silent: true, z: 6, clip: false,
      data: yMajorTicks.map(v => [0, L(v)]),
      renderItem: function (p, api) {
        const pt = api.coord([0, api.value(1)]);
        const e = String(Math.round(api.value(1)));
        return { type: 'group', children: [
          { type: 'text', x: pt[0] - 18, y: pt[1] + 4, style: { text: '10', fill: C_AX, font: '21px ' + FONT, textAlign: 'right', textVerticalAlign: 'middle' } },
          { type: 'text', x: pt[0] - 18, y: pt[1] - 5, style: { text: e, fill: C_AX, font: '14px ' + FONT, textAlign: 'left', textVerticalAlign: 'middle' } }
        ] };
      } });
  }
  // x tick labels on bottom row (rotated)
  if (row === 4) {
    series.push({ type: 'custom', xAxisIndex: i, yAxisIndex: i, silent: true, z: 6, clip: false,
      data: tickIdx.map((t, k) => [t, 0, k]),
      renderItem: function (p, api) {
        const pt = api.coord([api.value(0), 0]);
        return { type: 'text', x: pt[0] - 5, y: pt[1] + 10, rotation: -25 * Math.PI / 180,
          style: { text: tickLabels[api.value(2)], fill: C_AX, font: '21px ' + FONT, textAlign: 'left', textVerticalAlign: 'top' } };
      } });
  }
});

const chart = echarts.init(document.getElementById('c'), null, { renderer: 'canvas', width: 1061, height: 1143 });
chart.setOption({ animation: false, backgroundColor: '#fff', title: titles, grid: grids, xAxis: xAxes, yAxis: yAxes, series: series });
</script></body></html>
